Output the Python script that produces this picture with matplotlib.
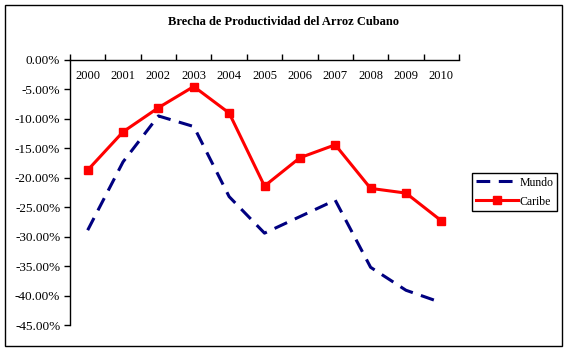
import matplotlib.pyplot as plt
from matplotlib.patches import Rectangle
from matplotlib.ticker import FuncFormatter

years = ["2000", "2001", "2002", "2003", "2004", "2005",
         "2006", "2007", "2008", "2009", "2010"]
mundo = [-28.9, -17.3, -9.5, -11.3, -23.2, -29.4, -26.6, -23.8, -35.2, -39.1, -41.2]
caribe = [-18.7, -12.2, -8.1, -4.5, -9.0, -21.4, -16.6, -14.4, -21.8, -22.6, -27.3]

plt.rcParams["font.family"] = ["Liberation Serif", "DejaVu Serif"]

W, H = 572, 353
fig = plt.figure(figsize=(W / 100, H / 100), dpi=100)

# marco exterior del grafico
fig.patches.append(Rectangle((5 / W, 1 - 346 / H), 557 / W, 341 / H,
                             transform=fig.transFigure, fill=False,
                             edgecolor="black", linewidth=1.0))

ax = fig.add_axes([70 / W, 1 - 325 / H, (459 - 70) / W, (325 - 60) / H])
x = list(range(len(years)))

ax.plot(x, mundo, color="#000080", linewidth=2.2, dashes=(4.5, 2.8), label="Mundo")
ax.plot(x, caribe, color="#FF0000", linewidth=2.2, marker="s", markersize=6,
        label="Caribe")

ax.set_ylim(-45, 0)
ax.set_xlim(-0.5, len(years) - 0.5)
ax.set_yticks(range(-45, 1, 5))
ax.yaxis.set_major_formatter(FuncFormatter(lambda v, p: f"{v:.2f}%"))
ax.tick_params(axis="y", direction="out", length=4, width=1, labelsize=9.5, pad=3)

# eje de categorias arriba, etiquetas debajo de la linea
ax.xaxis.set_ticks_position("top")
ax.set_xticks([i - 0.5 for i in range(len(years) + 1)])
ax.set_xticklabels([])
ax.set_xticks(x, minor=True)
ax.set_xticklabels(years, minor=True)
ax.tick_params(axis="x", which="major", direction="out", length=4, width=1)
ax.tick_params(axis="x", which="minor", length=0, labelsize=9, pad=-16,
               top=True, labeltop=True, bottom=False, labelbottom=False)

for s in ("right", "bottom"):
    ax.spines[s].set_visible(False)
for s in ("left", "top"):
    ax.spines[s].set_linewidth(1.0)

fig.text(283 / W, 1 - 22 / H, "Brecha de Productividad del Arroz Cubano",
         ha="center", va="center", fontsize=9, fontweight="bold")

leg = fig.legend(loc="upper left", bbox_to_anchor=(472 / W, 1 - 173 / H),
                 fontsize=8.5, fancybox=False, framealpha=1, edgecolor="black",
                 handlelength=3.6, borderpad=0.3, labelspacing=0.6,
                 handletextpad=0.1, borderaxespad=0)
leg.get_frame().set_linewidth(1.0)

fig.savefig("out.png", dpi=100)
